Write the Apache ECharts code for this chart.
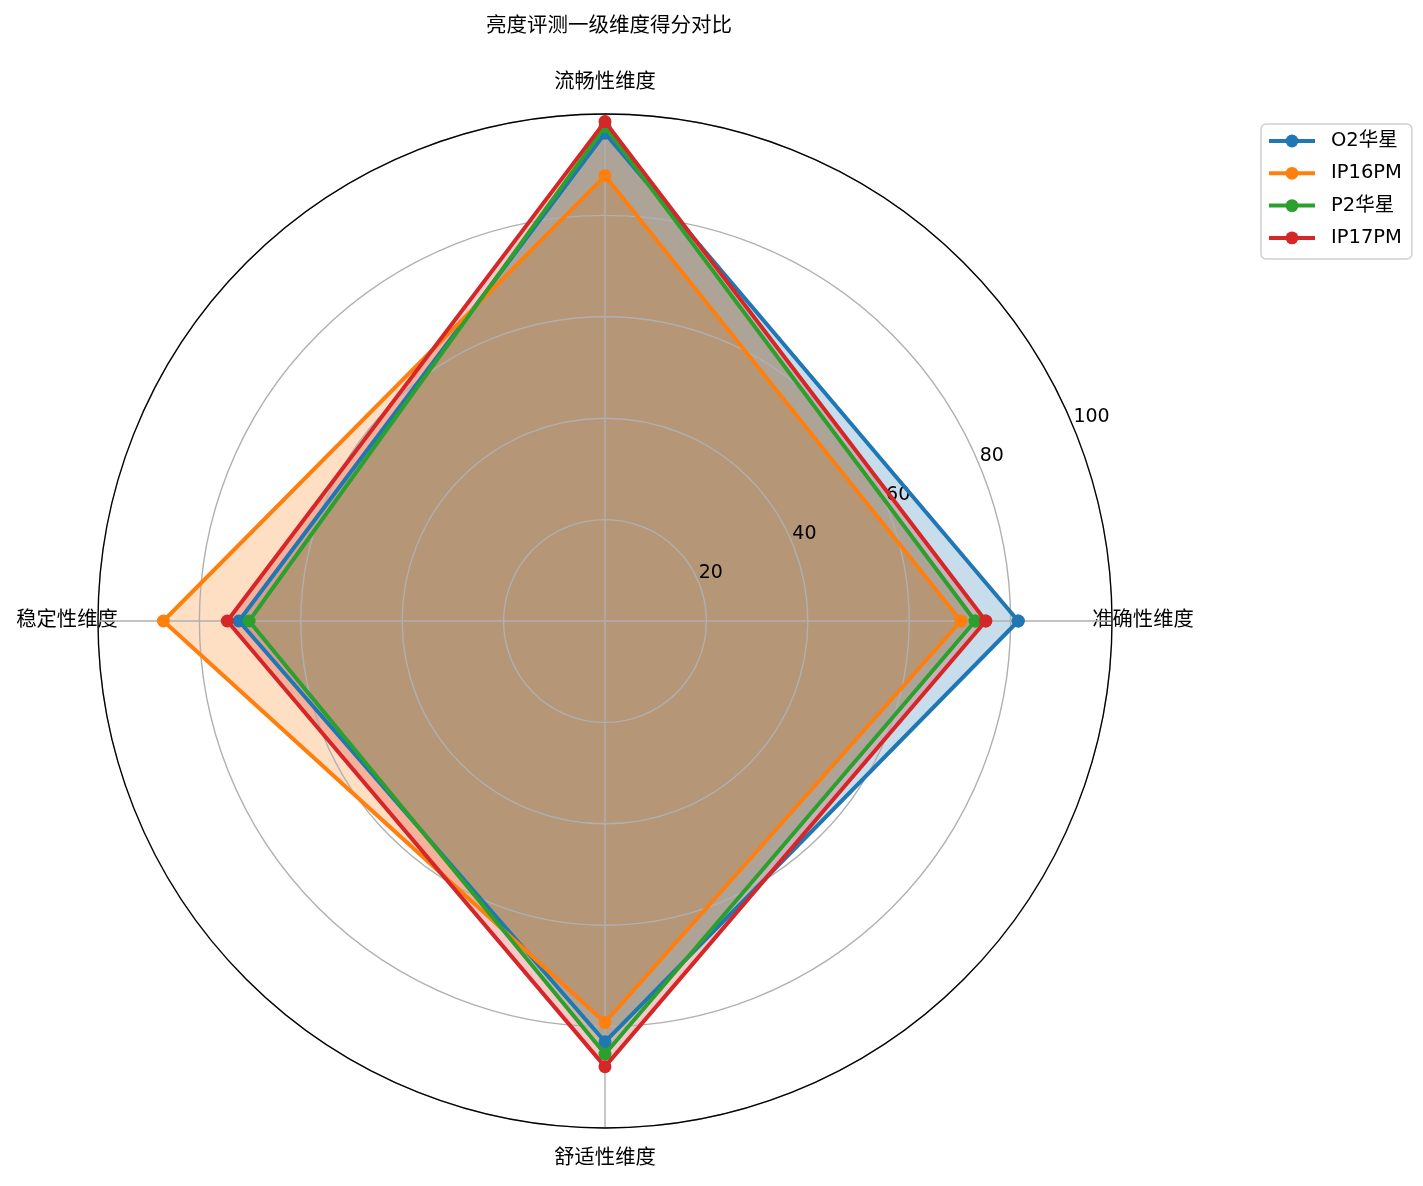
<!DOCTYPE html>
<html>
<head>
<meta charset="utf-8">
<script src="https://cdn.jsdelivr.net/npm/echarts@6/dist/echarts.min.js"></script>
<style>
html,body{margin:0;padding:0;background:#fff;}
#chart{width:1423px;height:1186px;}
</style>
</head>
<body>
<div id="chart"></div>
<script>
var categories = ['准确性维度', '流畅性维度', '稳定性维度', '舒适性维度'];
var seriesNames = ['O2华星', 'IP16PM', 'P2华星', 'IP17PM'];
var o2Values = [81.5, 96.2, 72.2, 83.0];
var ip16Values = [70.2, 87.8, 87.1, 79.2];
var p2Values = [73.0, 97.5, 70.2, 85.4];
var ip17Values = [75.1, 98.5, 74.5, 87.9];
var radialTicks = [20, 40, 60, 80, 100];
var titleText = '亮度评测一级维度得分对比';

var colors = ['#1f77b4', '#ff7f0e', '#2ca02c', '#d62728'];
var allValues = [o2Values, ip16Values, p2Values, ip17Values];
var FONT = '"DejaVu Sans", "Noto Sans CJK SC", sans-serif';
var step = 360 / categories.length;

function closedData(vals) {
  var d = vals.map(function (v, i) { return [v, i * step]; });
  d.push([vals[0], 360]);
  return d;
}

var center = [605, 621];
var radius = 507;
var LBOX = 110;

var areaSeries = allValues.map(function (vals, k) {
  return {
    name: seriesNames[k] + ' 区域',
    type: 'line',
    coordinateSystem: 'polar',
    polarIndex: 0,
    data: closedData(vals),
    symbol: 'none',
    lineStyle: { width: 0, opacity: 0 },
    areaStyle: { color: colors[k], opacity: 0.25 },
    z: 1,
    silent: true,
    animation: false
  };
});

var lineSeries = allValues.map(function (vals, k) {
  return {
    name: seriesNames[k],
    type: 'line',
    coordinateSystem: 'polar',
    polarIndex: 0,
    data: closedData(vals),
    symbol: 'circle',
    symbolSize: 13,
    lineStyle: { color: colors[k], width: 4 },
    itemStyle: { color: colors[k] },
    z: 5 + k,
    animation: false
  };
});

var chart = echarts.init(document.getElementById('chart'));
chart.setOption({
  animation: false,
  backgroundColor: '#ffffff',
  title: {
    text: titleText,
    left: 481,
    top: 11,
    textStyle: { fontFamily: FONT, fontSize: 20.5, fontWeight: 'normal', color: '#000' }
  },
  legend: {
    data: seriesNames,
    orient: 'vertical',
    left: 1261,
    top: 124,
    itemWidth: 46,
    itemHeight: 16,
    itemGap: 12.3,
    padding: [7, 10, 11, 6],
    borderColor: '#d0d0d0',
    borderWidth: 1.5,
    borderRadius: 5,
    lineStyle: { width: 4 },
    textStyle: { fontFamily: FONT, fontSize: 19.5, color: '#000', lineHeight: 20, padding: [0, 0, 0, 11] }
  },
  polar: [
    { center: center, radius: radius },
    { center: center, radius: radius }
  ],
  angleAxis: [
    {
      polarIndex: 0,
      type: 'value',
      min: 0,
      max: 360,
      interval: step,
      startAngle: 0,
      clockwise: false,
      z: 2,
      axisLine: { show: true, lineStyle: { color: '#000', width: 1.3 } },
      axisTick: { show: false },
      axisLabel: {
        show: true,
        margin: 31 - LBOX / 2,
        formatter: function (v) {
          var i = Math.round(v / step);
          return i < categories.length ? '{c|' + categories[i] + '}' : '';
        },
        rich: {
          c: {
            width: LBOX,
            height: LBOX,
            lineHeight: LBOX,
            align: 'center',
            verticalAlign: 'middle',
            fontFamily: FONT,
            fontSize: 20.3,
            color: '#000'
          }
        }
      },
      splitLine: { show: true, lineStyle: { color: '#b0b0b0', width: 1.4 } }
    },
    {
      polarIndex: 1,
      type: 'value',
      min: 0,
      max: 360,
      startAngle: 22.5,
      clockwise: false,
      show: false
    }
  ],
  radiusAxis: [
    {
      polarIndex: 0,
      type: 'value',
      min: 0,
      max: 100,
      interval: 20,
      z: 2,
      axisLine: { show: false },
      axisTick: { show: false },
      axisLabel: { show: false },
      splitLine: { show: true, lineStyle: { color: '#b0b0b0', width: 1.4 } }
    },
    {
      polarIndex: 1,
      type: 'value',
      min: 0,
      max: 100,
      interval: 20,
      z: 3,
      axisLine: { show: false },
      axisTick: { show: false },
      splitLine: { show: false },
      axisLabel: {
        show: true,
        margin: 0,
        align: 'left',
        verticalAlign: 'bottom',
        fontFamily: FONT,
        fontSize: 19,
        color: '#000',
        formatter: function (v) {
          return radialTicks.indexOf(v) >= 0 ? String(v) : '';
        }
      }
    }
  ],
  series: areaSeries.concat(lineSeries)
});
</script>
</body>
</html>
